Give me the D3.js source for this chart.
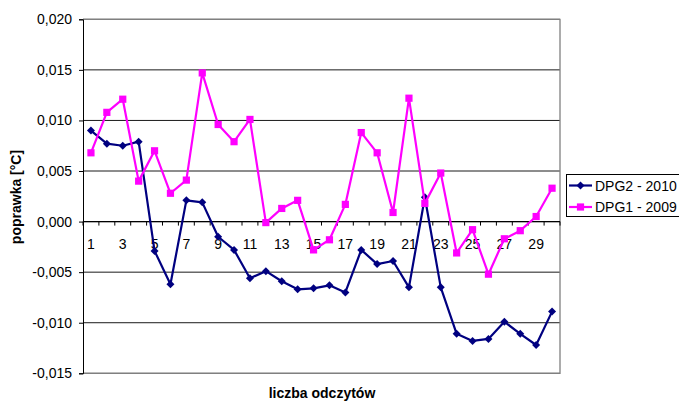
<!DOCTYPE html>
<html>
<head>
<meta charset="utf-8">
<script src="https://cdn.jsdelivr.net/npm/d3@7"></script>
<style>
  html, body { margin: 0; padding: 0; background: #fff; }
  svg { display: block; font-family: "Liberation Sans", Arial, sans-serif; }
</style>
</head>
<body>
<svg id="chart" width="679" height="406"></svg>
<script>
// Reading numbers 1..30
const categories = d3.range(1, 31);

// Correction per reading, DPG2 (2010)
const dpg2 = [
  0.0090, 0.0077, 0.0075, 0.0079, -0.0029, -0.0062, 0.0021, 0.0019, -0.0015, -0.0028,
  -0.0056, -0.0049, -0.0059, -0.0067, -0.0066, -0.0063, -0.0070, -0.0028, -0.0042, -0.0039,
  -0.0065, 0.0024, -0.0065, -0.0111, -0.0118, -0.0116, -0.0099, -0.0111, -0.0122, -0.0089
];

// Correction per reading, DPG1 (2009)
const dpg1 = [
  0.0068, 0.0108, 0.0121, 0.0040, 0.0070, 0.0028, 0.0041, 0.0147, 0.0096, 0.0079,
  0.0101, -0.0001, 0.0013, 0.0021, -0.0028, -0.0018, 0.0017, 0.0088, 0.0068, 0.0009,
  0.0122, 0.0018, 0.0048, -0.0031, -0.0008, -0.0052, -0.0017, -0.0009, 0.0005, 0.0033
];

const yTicks = [-0.015, -0.010, -0.005, 0.000, 0.005, 0.010, 0.015, 0.020];
const seriesNames = ["DPG2 - 2010", "DPG1 - 2009"];
const yTitle = "poprawka [°C]";
const xTitle = "liczba odczytów";

const svg = d3.select("#chart");
const plot = { left: 83, right: 560, top: 19.3, bottom: 373.3 };
const font = 14;

const x = d3.scaleBand().domain(categories).range([plot.left, plot.right]).paddingInner(0).paddingOuter(0);
const y = d3.scaleLinear().domain([-0.015, 0.020]).range([plot.bottom, plot.top]);
const cx = d => x(d) + x.bandwidth() / 2;

const plLocale = d3.formatLocale({ decimal: ",", thousands: " ", grouping: [3], currency: ["", ""], minus: "-" });
const fmt = plLocale.format(".3f");

// horizontal gridlines
svg.append("g")
  .selectAll("line")
  .data(yTicks)
  .join("line")
  .attr("x1", plot.left).attr("x2", plot.right)
  .attr("y1", d => y(d)).attr("y2", d => y(d))
  .attr("stroke", "#1a1a1a").attr("stroke-width", 1);

// plot frame (top / right / bottom)
svg.append("path")
  .attr("d", `M${plot.left},${plot.top}H${plot.right}V${plot.bottom}H${plot.left}`)
  .attr("fill", "none").attr("stroke", "#808080").attr("stroke-width", 1.3);

// value axis
const yAxis = svg.append("g")
  .attr("transform", `translate(${plot.left},0)`)
  .call(d3.axisLeft(y).tickValues(yTicks).tickFormat(fmt).tickSize(4).tickPadding(7));
yAxis.select(".domain").attr("stroke", "#000");
yAxis.selectAll("text").attr("font-size", font).attr("fill", "#000")
  .attr("font-family", "Liberation Sans, Arial, sans-serif");

// category axis on the zero line: ticks between categories
const y0 = y(0);
const bounds = categories.map(d => x(d)).concat([x.range()[1]]);
const xAxis = svg.append("g");
xAxis.append("line")
  .attr("x1", plot.left).attr("x2", plot.right)
  .attr("y1", y0).attr("y2", y0)
  .attr("stroke", "#000").attr("stroke-width", 1.2);
xAxis.selectAll("line.tick")
  .data(bounds)
  .join("line")
  .attr("class", "tick")
  .attr("x1", d => d).attr("x2", d => d)
  .attr("y1", y0).attr("y2", y0 + 4)
  .attr("stroke", "#000");
xAxis.selectAll("text")
  .data(categories.filter(d => d % 2 === 1))
  .join("text")
  .attr("x", d => cx(d))
  .attr("y", y0 + 27)
  .attr("text-anchor", "middle")
  .attr("font-size", font)
  .text(d => d);

// series
const line = d3.line().x((v, i) => cx(categories[i])).y(v => y(v));
const series = [
  { name: seriesNames[0], values: dpg2, color: "#000080", marker: "diamond" },
  { name: seriesNames[1], values: dpg1, color: "#FF00FF", marker: "square" }
];

function drawMarker(g, kind, color) {
  if (kind === "square") {
    g.append("rect").attr("x", -3.6).attr("y", -3.6).attr("width", 7.2).attr("height", 7.2)
      .attr("fill", color);
  } else {
    g.append("path").attr("d", "M0,-4L4,0L0,4L-4,0Z").attr("fill", color);
  }
}

series.forEach(s => {
  svg.append("path")
    .datum(s.values)
    .attr("d", line)
    .attr("fill", "none")
    .attr("stroke", s.color)
    .attr("stroke-width", 2.2)
    .attr("stroke-linejoin", "round");
  svg.append("g")
    .selectAll("g")
    .data(s.values)
    .join("g")
    .attr("transform", (v, i) => `translate(${cx(categories[i])},${y(v)})`)
    .each(function () { drawMarker(d3.select(this), s.marker, s.color); });
});

// legend
const legend = svg.append("g");
legend.append("rect")
  .attr("x", 566.5).attr("y", 174.5).attr("width", 130).attr("height", 42)
  .attr("fill", "#fff").attr("stroke", "#000").attr("stroke-width", 1);
series.forEach((s, i) => {
  const ly = 185.5 + i * 21.5;
  legend.append("line")
    .attr("x1", 569).attr("x2", 592).attr("y1", ly).attr("y2", ly)
    .attr("stroke", s.color).attr("stroke-width", 2.2);
  const m = legend.append("g").attr("transform", `translate(580.5,${ly})`);
  drawMarker(m, s.marker, s.color);
  legend.append("text")
    .attr("x", 595).attr("y", ly + 5.2)
    .attr("font-size", font)
    .text(s.name);
});

// axis titles
svg.append("text")
  .attr("transform", `translate(21,197) rotate(-90)`)
  .attr("text-anchor", "middle")
  .attr("font-size", font)
  .attr("font-weight", "bold")
  .text(yTitle);

svg.append("text")
  .attr("x", 322).attr("y", 398)
  .attr("text-anchor", "middle")
  .attr("font-size", font)
  .attr("font-weight", "bold")
  .text(xTitle);
</script>
</body>
</html>
